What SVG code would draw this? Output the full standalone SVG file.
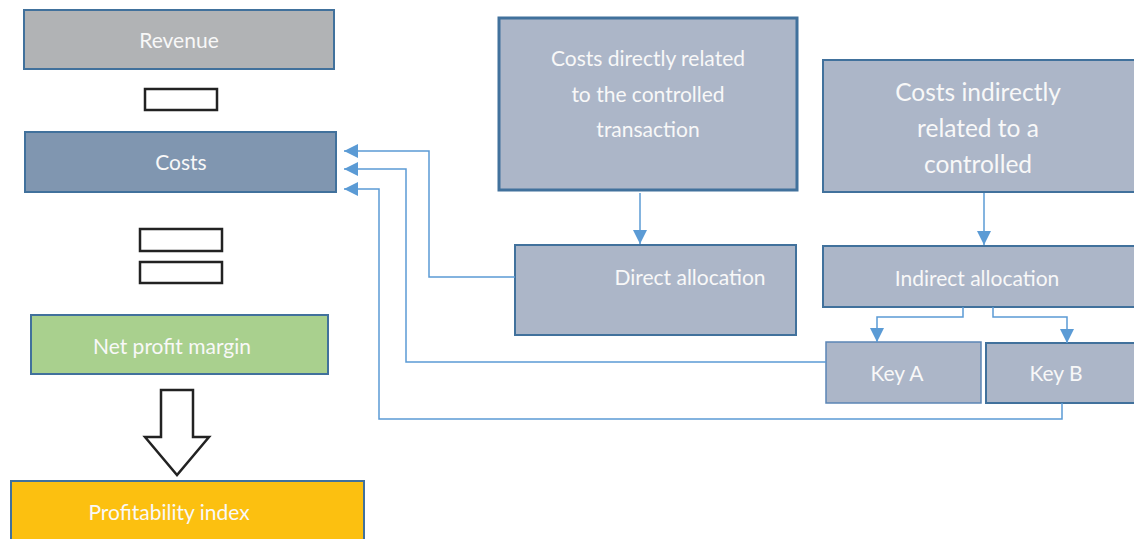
<svg xmlns="http://www.w3.org/2000/svg" width="1134" height="539" viewBox="0 0 1134 539">
  <defs>
    <style>
      .box { stroke: #41719c; stroke-width: 2; }
      .thick { stroke: #41719c; stroke-width: 3; }
      .thin { stroke: #5b85b5; stroke-width: 1.5; }
      .blue { fill: #acb6c8; }
      .lbl { font-family: Lato, "Open Sans", sans-serif; fill: #f8f8f8; text-anchor: middle; font-size: 21px; }
      .big { font-size: 24.5px; }
      .op { fill: #ffffff; stroke: #222222; stroke-width: 2.5; }
      .wire { fill: none; stroke: #5b9bd5; stroke-width: 1.5; }
    </style>
    <marker id="ahl" viewBox="0 0 14 14" refX="14" refY="7" markerWidth="14" markerHeight="14" markerUnits="userSpaceOnUse" orient="auto">
      <path d="M0,0 L14,7 L0,14 Z" fill="#5b9bd5"/>
    </marker>
  </defs>

  <!-- left column: revenue - costs = margin -->
  <g id="revenue">
    <rect class="box" x="24" y="10" width="310" height="59" fill="#b1b3b5"/>
    <text class="lbl" x="179" y="48">Revenue</text>
  </g>
  <g id="minus">
    <rect class="op" x="145" y="89" width="72" height="21"/>
  </g>
  <g id="costs">
    <rect class="box" x="25" y="132" width="311" height="60" fill="#8096b0"/>
    <text class="lbl" x="181" y="170">Costs</text>
  </g>
  <g id="equals">
    <rect class="op" x="140" y="229" width="82" height="22"/>
    <rect class="op" x="140" y="262" width="82" height="21"/>
  </g>
  <g id="net-profit-margin">
    <rect class="box" x="31" y="315" width="297" height="59" fill="#a9d08e"/>
    <text class="lbl" x="172" y="354">Net profit margin</text>
  </g>
  <g id="down-arrow">
    <path class="op" d="M161,390 H193 V437 H209 L177,475 L145,437 H161 Z" stroke-width="2"/>
  </g>
  <g id="profitability-index">
    <rect class="box" x="11" y="481" width="353" height="62" fill="#fcc010"/>
    <text class="lbl" x="169" y="520">Profitability index</text>
  </g>

  <!-- right side: cost sources and allocations -->
  <g id="direct-costs">
    <rect class="thick blue" x="499" y="18" width="298" height="172"/>
    <text class="lbl" x="648" y="66">Costs directly related</text>
    <text class="lbl" x="648" y="102">to the controlled</text>
    <text class="lbl" x="648" y="137">transaction</text>
  </g>
  <g id="indirect-costs">
    <rect class="box blue" x="823" y="60" width="320" height="132"/>
    <text class="lbl big" x="978" y="101">Costs indirectly</text>
    <text class="lbl big" x="978" y="137">related to a</text>
    <text class="lbl big" x="978" y="173">controlled</text>
  </g>
  <g id="direct-allocation">
    <rect class="box blue" x="515" y="245" width="281" height="90"/>
    <text class="lbl" x="690" y="285">Direct allocation</text>
  </g>
  <g id="indirect-allocation">
    <rect class="box blue" x="823" y="246" width="320" height="61"/>
    <text class="lbl" x="977" y="286">Indirect allocation</text>
  </g>
  <g id="key-a">
    <rect class="thin blue" x="826" y="342" width="155" height="61"/>
    <text class="lbl" x="897" y="381">Key A</text>
  </g>
  <g id="key-b">
    <rect class="box blue" x="986" y="343" width="157" height="60"/>
    <text class="lbl" x="1056" y="381">Key B</text>
  </g>

  <g id="connectors">
    <path class="wire" d="M640,193 V244" marker-end="url(#ahl)"/>
    <path class="wire" d="M984,193 V245" marker-end="url(#ahl)"/>
    <path class="wire" d="M963,307 V317 H877 V342" marker-end="url(#ahl)"/>
    <path class="wire" d="M993,307 V317 H1067 V343" marker-end="url(#ahl)"/>
    <path class="wire" d="M515,277 H429 V151 H344" marker-end="url(#ahl)"/>
    <path class="wire" d="M826,362 H406 V169 H344" marker-end="url(#ahl)"/>
    <path class="wire" d="M1062,403 V419 H379 V189 H344" marker-end="url(#ahl)"/>
  </g>
</svg>
